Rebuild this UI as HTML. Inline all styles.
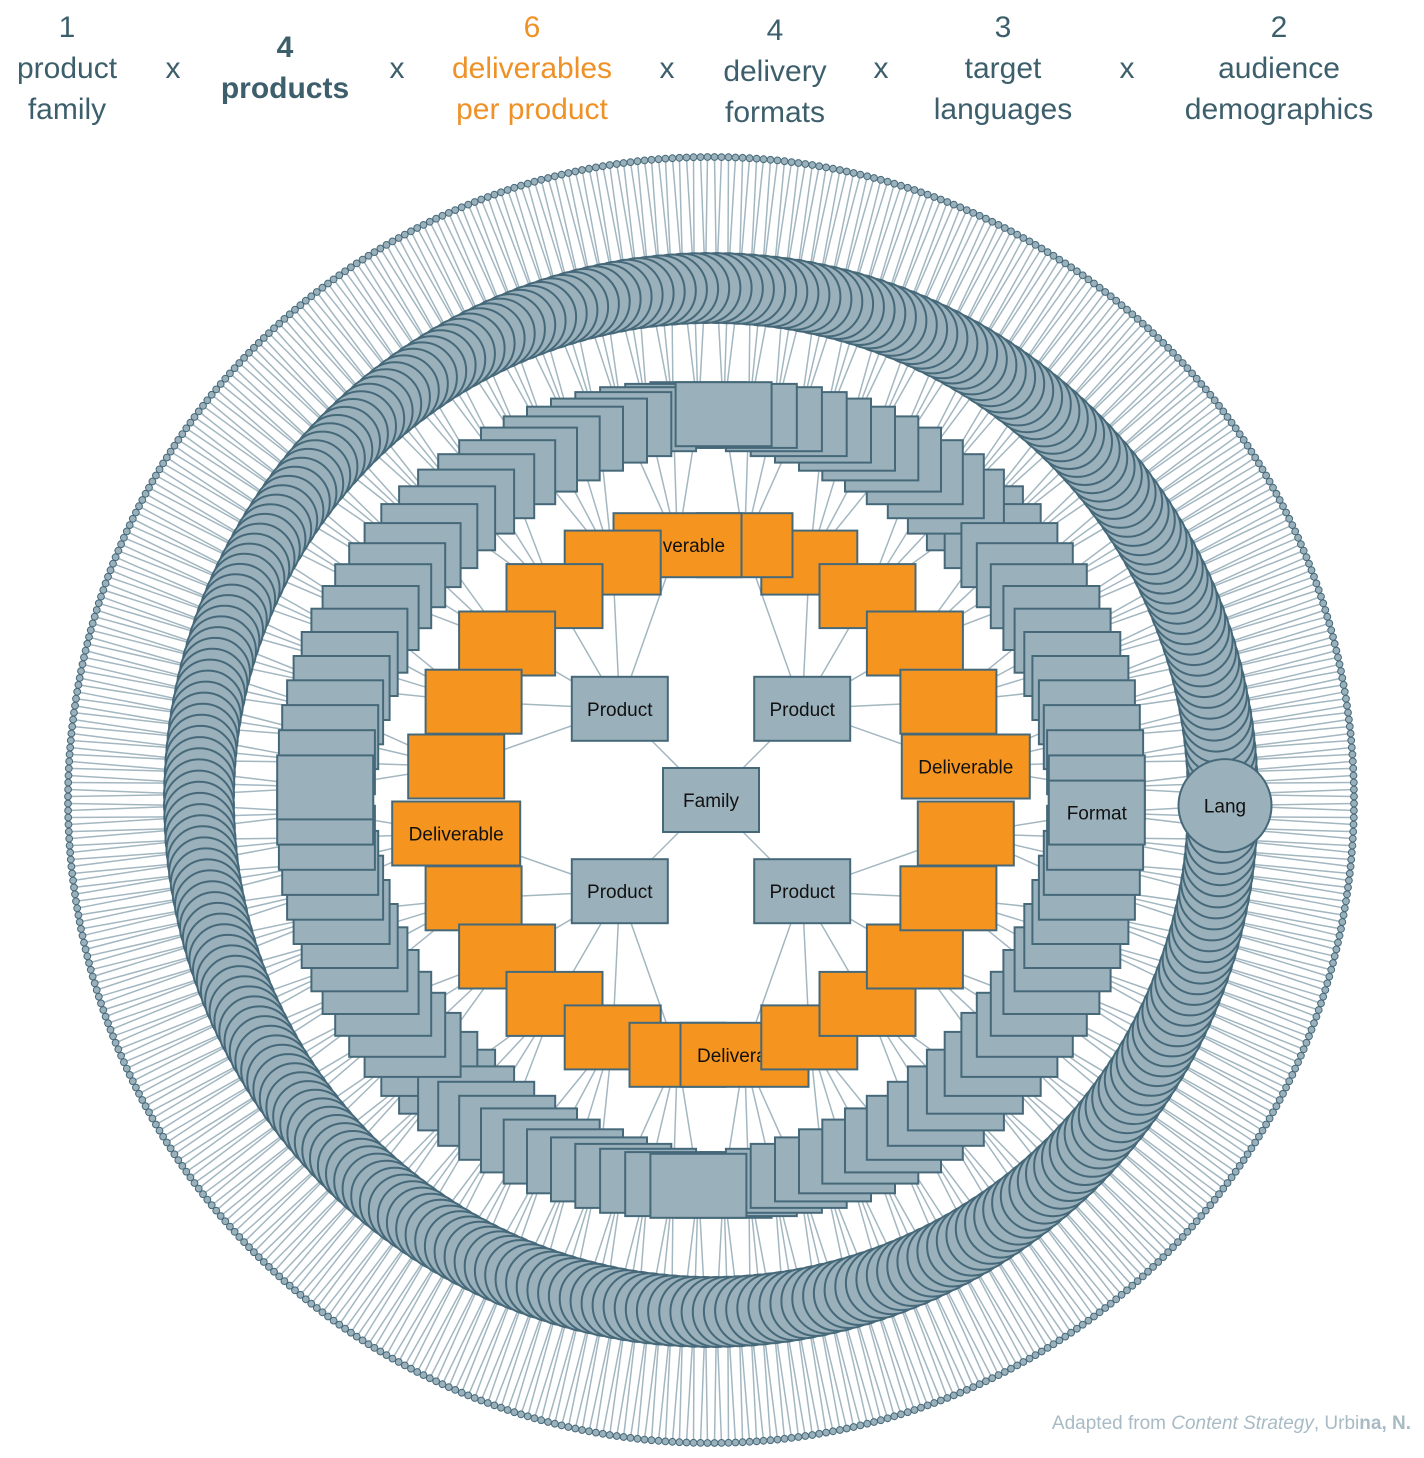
<!DOCTYPE html>
<html><head><meta charset="utf-8"><style>
html,body{margin:0;padding:0;background:#fff;}
body{width:1424px;height:1458px;position:relative;overflow:hidden;font-family:"Liberation Sans",sans-serif;}
.t{position:absolute;font-size:30px;color:#3d5f6c;text-align:center;line-height:41px;transform:translateX(-50%);white-space:nowrap;}
.x{position:absolute;font-size:30px;color:#3d5f6c;transform:translateX(-50%);}
.o{color:#ee9127;}
.foot{position:absolute;right:13px;top:1413px;font-size:19px;color:#a8bbc5;}
svg{position:absolute;left:0;top:0;}
</style></head><body>
<svg id="s" width="1424" height="1458" viewBox="0 0 1424 1458"></svg>
<div class="t" style="left:67px;top:7px">1<br>product<br>family</div>
<div class="x" style="left:173px;top:52px">x</div>
<div class="t" style="left:285px;top:27px;font-weight:bold">4<br>products</div>
<div class="x" style="left:397px;top:52px">x</div>
<div class="t o" style="left:532px;top:7px">6<br>deliverables<br>per product</div>
<div class="x" style="left:667px;top:52px">x</div>
<div class="t" style="left:775px;top:10px">4<br>delivery<br>formats</div>
<div class="x" style="left:881px;top:52px">x</div>
<div class="t" style="left:1003px;top:7px">3<br>target<br>languages</div>
<div class="x" style="left:1127px;top:52px">x</div>
<div class="t" style="left:1279px;top:7px">2<br>audience<br>demographics</div>
<div class="foot">Adapted from <i>Content Strategy</i>, Urbi<b>na, N.</b></div>
<script>
(function(){
var cx=711,cy=800,NS="http://www.w3.org/2000/svg",svg=document.getElementById("s");
var FILL="#9ab0bb",ST="#46697a",OR="#f5951f",LC="#a3b7c1";
function rad(a){return a*Math.PI/180;}
function pos(r,a){return [cx+r*Math.cos(rad(a)),cy+r*Math.sin(rad(a))];}
function el(n,at){var e=document.createElementNS(NS,n);for(var k in at)e.setAttribute(k,at[k]);svg.appendChild(e);return e;}
function norm(a){a=a%360;if(a<0)a+=360;return a;}
var prods=[-135,-45,45,135],dels=[],fmts=[],langs=[],demos=[];
var lines=[];
var P0=[cx,cy];
prods.forEach(function(p){var pp=pos(129,p);lines.push([P0,pp]);
 for(var j=0;j<6;j++){var d=p-37.5+15*j;var dp=pos(257,d);dels.push(d);lines.push([pp,dp]);
  for(var k=0;k<4;k++){var f=d-5.625+3.75*k;var fp=pos(386,f);fmts.push(f);lines.push([dp,fp]);
   for(var m=0;m<3;m++){var l=f-1.25+1.25*m;var lp=pos(514,l);langs.push(l);lines.push([fp,lp]);
    for(var q=0;q<2;q++){var dm=l-0.3125+0.625*q;var mp=pos(643,dm);demos.push(dm);lines.push([lp,mp]);}
   }}}});
var g=el("g",{stroke:LC,"stroke-width":1.5});
lines.forEach(function(L){var e=document.createElementNS(NS,"line");e.setAttribute("x1",L[0][0].toFixed(1));e.setAttribute("y1",L[0][1].toFixed(1));e.setAttribute("x2",L[1][0].toFixed(1));e.setAttribute("y2",L[1][1].toFixed(1));g.appendChild(e);});
function box(x,y,w,h,fill,label){el("rect",{x:(x-w/2).toFixed(1),y:(y-h/2).toFixed(1),width:w,height:h,fill:fill,stroke:ST,"stroke-width":2});
 if(label){var t=el("text",{x:x.toFixed(1),y:(y+7).toFixed(1),"text-anchor":"middle","font-size":19,"font-family":"Liberation Sans, sans-serif",fill:"#111"});t.textContent=label;}}
demos.forEach(function(a){var p=pos(643,a);el("circle",{cx:p[0].toFixed(1),cy:p[1].toFixed(1),r:3.4,fill:FILL,stroke:ST,"stroke-width":1});});
var ls=langs.map(function(a){return norm(a-0.625);}).sort(function(a,b){return b-a;});
ls.forEach(function(a){if(a<0.01)return;var p=pos(512,a+0.625);el("circle",{cx:p[0].toFixed(1),cy:p[1].toFixed(1),r:35,fill:FILL,stroke:ST,"stroke-width":2});});
var lp=pos(514,0.625);
el("circle",{cx:lp[0].toFixed(1),cy:lp[1].toFixed(1),r:46.5,fill:FILL,stroke:ST,"stroke-width":2});
var lt=el("text",{x:lp[0].toFixed(1),y:(lp[1]+7).toFixed(1),"text-anchor":"middle","font-size":19,"font-family":"Liberation Sans, sans-serif",fill:"#111"});lt.textContent="Lang";
var peaksF=[1.875,91.875,181.875,271.875];
function zf(a){a=norm(a);
 for(var i=0;i<4;i++){if(Math.abs(a-peaksF[i])<0.01)return 1000;}
 if(a<90)return 90-a; if(a<180)return Math.abs(a-135); if(a<270)return 270-a; return Math.abs(a-315);}
var fs=fmts.slice().sort(function(a,b){return zf(a)-zf(b);});
fs.forEach(function(a){var p=pos(386,a);box(p[0],p[1],96,64,FILL,Math.abs(norm(a)-1.875)<0.01?"Format":null);});
var order=[172.5,157.5,142.5,127.5,112.5,97.5,82.5,67.5,52.5,37.5,22.5,7.5,-67.5,-52.5,-37.5,-22.5,-7.5,-82.5,-97.5,-112.5,-127.5,-142.5,-157.5,-172.5];
var labeled={"-7.5":1,"82.5":1,"172.5":1,"-97.5":1};
order.forEach(function(a){var p=pos(257,a);var lab=labeled[String(a)];box(p[0],p[1],lab?128:96,64,OR,lab?"Deliverable":null);});
prods.forEach(function(a){var p=pos(129,a);box(p[0],p[1],96,64,FILL,"Product");});
box(cx,cy,96,64,FILL,"Family");
})();
</script>
</body></html>
